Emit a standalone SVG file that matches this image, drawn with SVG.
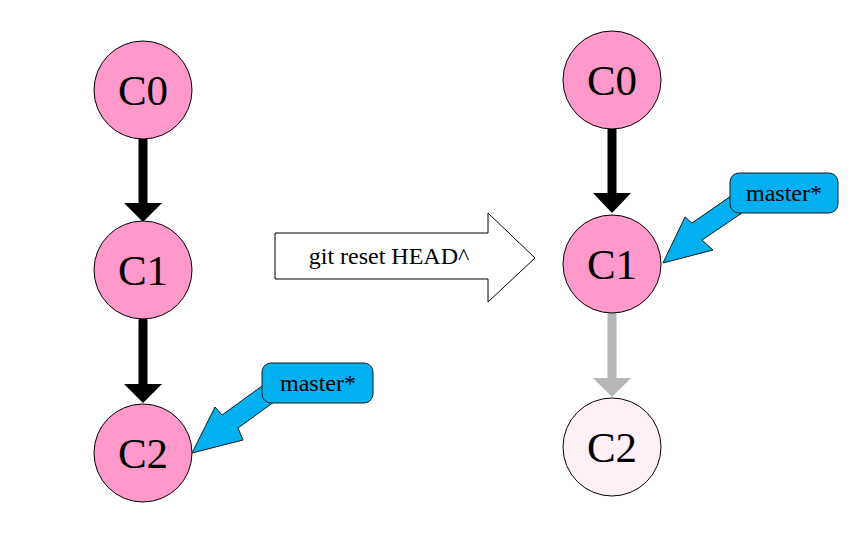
<svg xmlns="http://www.w3.org/2000/svg" width="868" height="541" viewBox="0 0 868 541">
<style>
text{font-family:"Liberation Serif","Times New Roman","DejaVu Serif",serif}
.node{fill:#ff99cc;stroke:#000;stroke-width:1}
.ghost{fill:#fff0f6;stroke:#000;stroke-width:1}
.lbl{font-size:43px;fill:#000;text-anchor:middle}
.call{fill:#00b0f0;stroke:#1a1a1a;stroke-width:1}
.ctext{font-size:24px;fill:#000;text-anchor:middle}
.edge{stroke:#000;stroke-width:9;stroke-linecap:round;fill:none}
</style>
<rect width="868" height="541" fill="#fff"/>
<g id="connectors">
  <line class="edge" x1="143" y1="139" x2="143" y2="206"/>
  <polygon points="124,203 162,203 143,222" fill="#000"/>
  <line class="edge" x1="143" y1="321" x2="143" y2="388"/>
  <polygon points="124,384 162,384 143,403" fill="#000"/>
  <line class="edge" x1="612" y1="129" x2="612" y2="197"/>
  <polygon points="593,193 631,193 612,213" fill="#000"/>
  <g opacity="0.28">
    <line class="edge" x1="612" y1="313" x2="612" y2="383"/>
    <polygon points="593,378 631,378 612,397" fill="#000"/>
  </g>
</g>
<g id="reset-arrow">
  <polygon points="275,233 488,233 488,213 535,258 488,302 488,279 275,279" fill="#fff" stroke="#000" stroke-width="1"/>
  <text x="389" y="264" font-size="24" text-anchor="middle">git reset HEAD^</text>
</g>
<g id="L-C0"><circle class="node" cx="143" cy="90" r="49"/><text class="lbl" x="143" y="105">C0</text></g>
<g id="L-C1"><circle class="node" cx="143" cy="270" r="49"/><text class="lbl" x="143" y="285">C1</text></g>
<g id="L-C2"><circle class="node" cx="143" cy="453" r="49"/><text class="lbl" x="143" y="468">C2</text></g>
<g id="R-C0"><circle class="node" cx="612" cy="80" r="49"/><text class="lbl" x="612" y="95">C0</text></g>
<g id="R-C1"><circle class="node" cx="612" cy="264" r="49"/><text class="lbl" x="612" y="279">C1</text></g>
<g id="R-C2"><circle class="ghost" cx="612" cy="447" r="49"/><text class="lbl" x="612" y="462">C2</text></g>
<g id="L-master">
  <polygon class="call" points="262,386 222,415 215,407 192,453 243,440 238,428 274,402"/>
  <rect class="call" x="262" y="363" width="111" height="40" rx="9"/>
  <text class="ctext" x="318" y="391">master*</text>
</g>
<g id="R-master">
  <polygon class="call" points="731,196 692,223 685,217 663,263 713,250 702,240 742,213"/>
  <rect class="call" x="730" y="173" width="108" height="40" rx="9"/>
  <text class="ctext" x="784" y="201">master*</text>
</g>
</svg>
